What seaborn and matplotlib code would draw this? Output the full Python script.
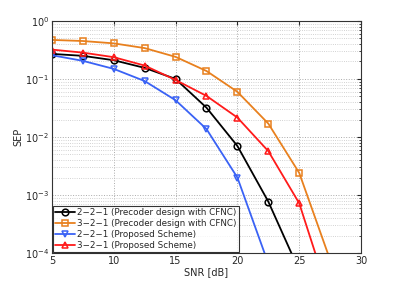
import numpy as np
import pandas as pd
import matplotlib
matplotlib.use('Agg')
import matplotlib.pyplot as plt
import seaborn as sns

# SNR points in dB
snr = [5, 7.5, 10, 12.5, 15, 17.5, 20, 22.5, 25, 27.5]

# SEP curves
sep_221_cfnc = [0.27, 0.25, 0.21, 0.155, 0.10, 0.032, 0.007, 7.7e-4, 5e-5, np.nan]
sep_321_cfnc = [0.47, 0.45, 0.41, 0.34, 0.24, 0.137, 0.060, 0.017, 2.4e-3, 7.6e-5]
sep_221_prop = [0.256, 0.205, 0.149, 0.092, 0.043, 0.0137, 0.002, 6.6e-5, np.nan, np.nan]
sep_321_prop = [0.32, 0.284, 0.237, 0.17, 0.096, 0.051, 0.0216, 0.0057, 7.2e-4, 1.6e-5]

labels = ['2\u22122\u22121 (Precoder design with CFNC)',
          '3\u22122\u22121 (Precoder design with CFNC)',
          '2\u22122\u22121 (Proposed Scheme)',
          '3\u22122\u22121 (Proposed Scheme)']
colors = ['black', '#E8801E', '#3A62F5', '#FF1A1A']
markers = ['o', 's', 'v', '^']

df = pd.DataFrame({
    'SNR': snr * 4,
    'SEP': sep_221_cfnc + sep_321_cfnc + sep_221_prop + sep_321_prop,
    'Scheme': np.repeat(labels, len(snr)),
}).dropna()

sns.set_style('white')
plt.rcParams['font.family'] = ['DejaVu Sans']

fig = plt.figure(figsize=(3.99, 2.86), dpi=100)
ax = fig.add_axes([0.130, 0.115, 0.775, 0.812])

for lab, c, m in zip(labels, colors, markers):
    d = df[df['Scheme'] == lab]
    sns.lineplot(data=d, x='SNR', y='SEP', ax=ax, color=c, marker=m,
                 markersize=4.8, markerfacecolor='none', markeredgecolor=c,
                 markeredgewidth=1.1, linewidth=1.3, label=lab)

ax.set_yscale('log')
ax.set_xlim(5, 30)
ax.set_ylim(1e-4, 1)
ax.set_xticks([5, 10, 15, 20, 25, 30])
ax.set_xlabel('SNR [dB]', fontsize=7, labelpad=1)
ax.set_ylabel('SEP', fontsize=7, labelpad=1)
ax.tick_params(axis='both', which='both', direction='in', top=True, right=True,
               labelsize=7, length=3, pad=2)
ax.tick_params(which='minor', length=1.5)
ax.grid(True, which='major', linestyle=':', color='#aaaaaa', linewidth=0.7)
ax.grid(True, which='minor', linestyle=':', color='#c4c4c4', linewidth=0.6)
for s in ax.spines.values():
    s.set_color('#333333')
    s.set_linewidth(0.8)

leg = ax.legend(loc='lower left', fontsize=6.3, frameon=True, fancybox=False,
                edgecolor='black', borderpad=0.3, labelspacing=0.2,
                handlelength=2.2, handletextpad=0.3, borderaxespad=0.1)
leg.get_frame().set_linewidth(0.8)

fig.savefig('out.png', dpi=100)
